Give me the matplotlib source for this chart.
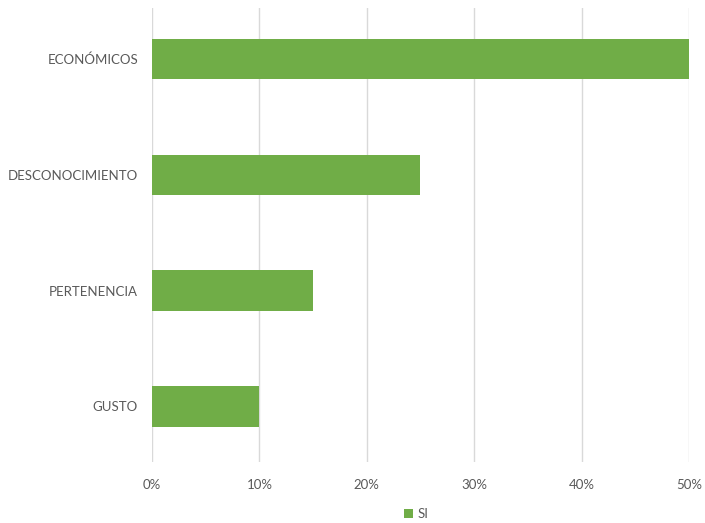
import matplotlib.pyplot as plt
from matplotlib.ticker import FuncFormatter

##### Data (bottom to top)

categories = ["GUSTO", "PERTENENCIA", "DESCONOCIMIENTO", "ECONÓMICOS"]
values_si = [0.10, 0.15, 0.25, 0.50]
x_ticks = [0.0, 0.1, 0.2, 0.3, 0.4, 0.5]

bar_color = "#70AD47"
text_color = "#595959"
grid_color = "#D9D9D9"

plt.rcParams['font.family'] = ['Lato', 'DejaVu Sans']

fig = plt.figure(figsize=(7.05, 5.23), dpi=100)
ax = fig.add_axes([0.2156, 0.1166, 0.7617, 0.8681])

bars = ax.barh(range(len(categories)), values_si, height=0.35, color=bar_color, label="SI", zorder=3)

ax.set_xlim(0, 0.5)
ax.set_ylim(-0.48, 3.44)
ax.set_xticks(x_ticks)
ax.xaxis.set_major_formatter(FuncFormatter(lambda v, p: f"{v*100:.0f}%"))
ax.set_yticks(range(len(categories)))
ax.set_yticklabels(categories)

ax.grid(axis="x", color=grid_color, linewidth=1, zorder=0)
for s in ax.spines.values():
    s.set_visible(False)
ax.tick_params(axis="both", length=0, colors=text_color, labelsize=9.5)
ax.tick_params(axis="x", pad=12)
ax.tick_params(axis="y", pad=10)

fig.legend(handles=[bars], labels=["SI"], loc="center", bbox_to_anchor=(0.59, 0.017),
           frameon=False, fontsize=9.5, labelcolor=text_color,
           handlelength=0.7, handleheight=0.7, handletextpad=0.3)

fig.savefig("out.png", dpi=100)
